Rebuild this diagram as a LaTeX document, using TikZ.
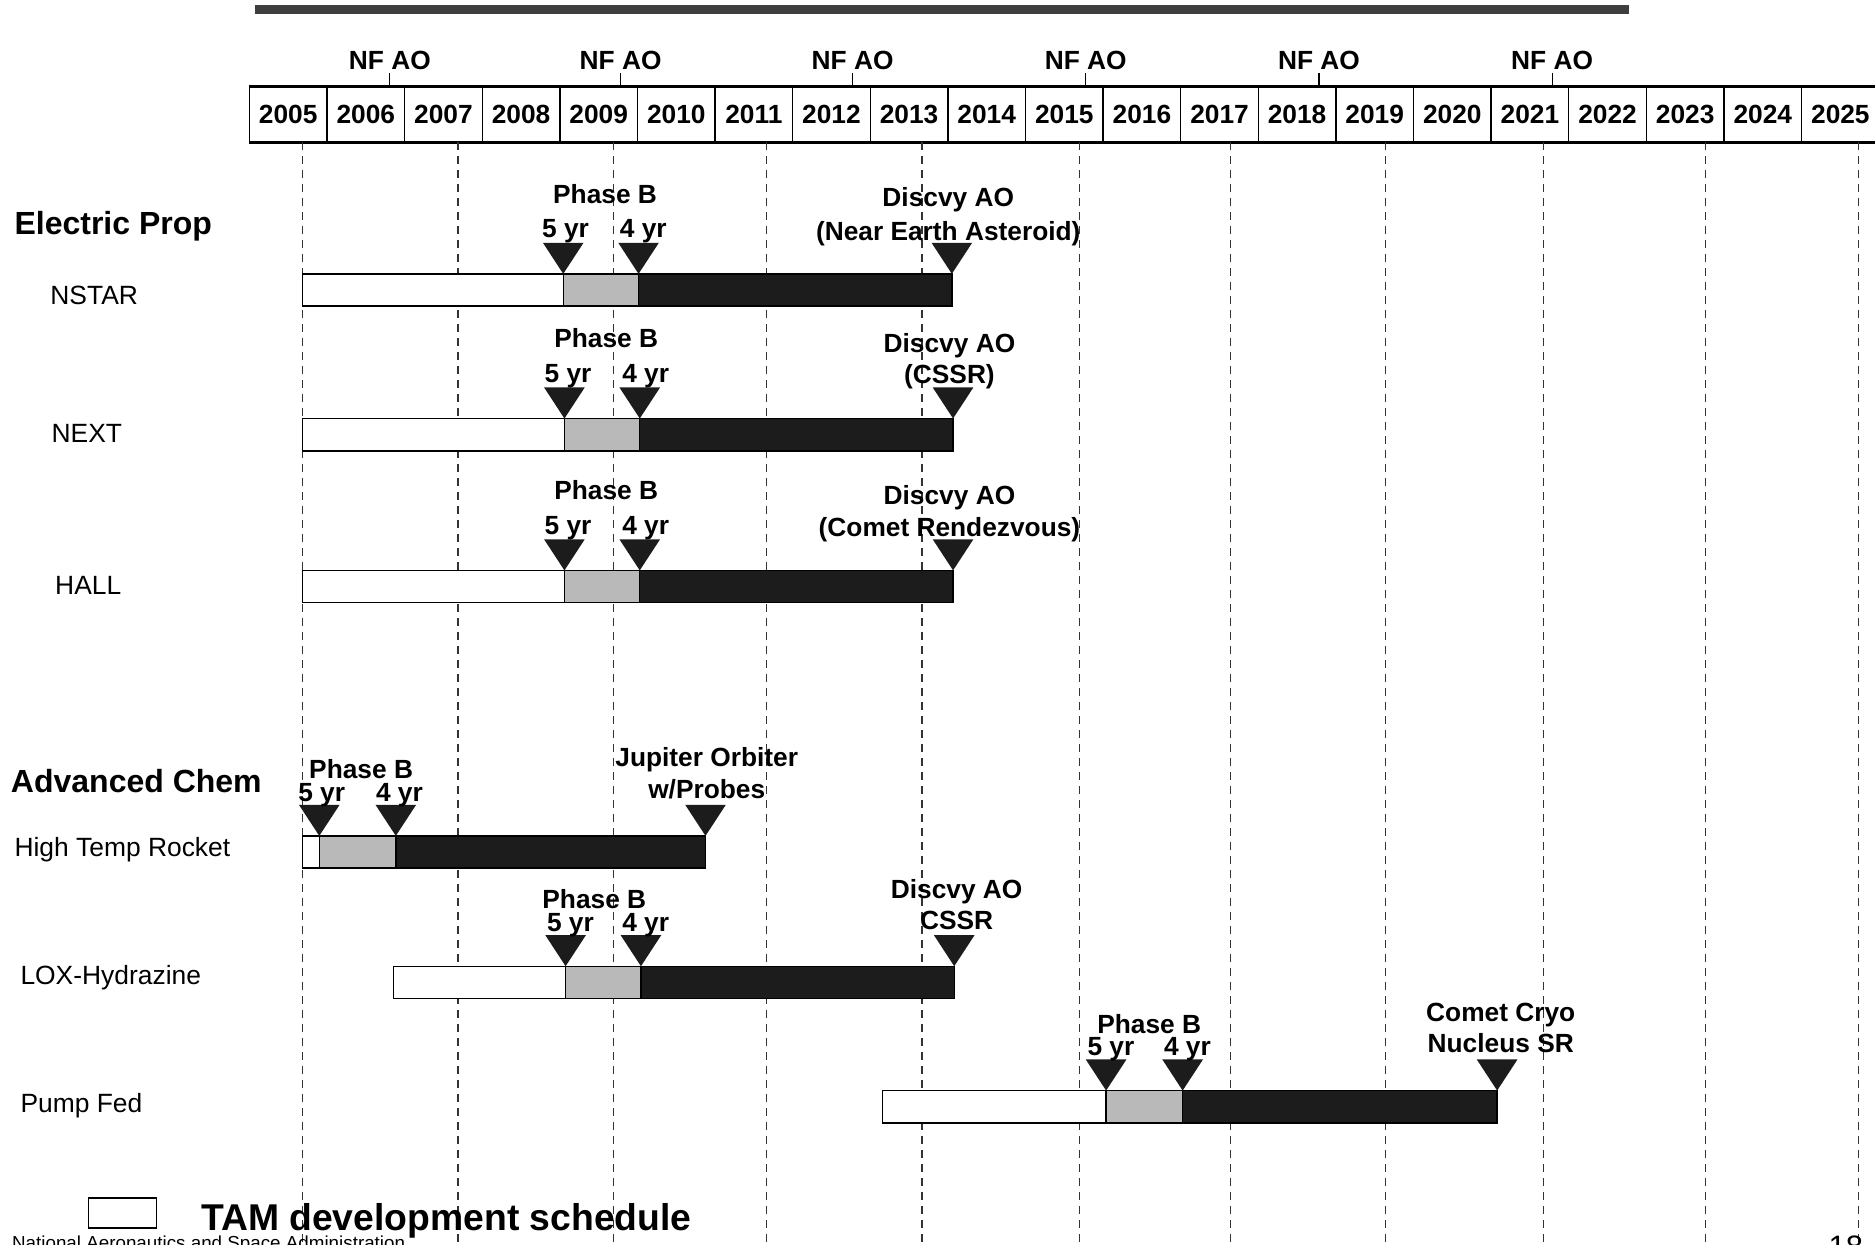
\documentclass[tikz,border=0pt]{standalone}
\usepackage{fontspec}
\setmainfont{Liberation Sans}
\definecolor{phaseb}{RGB}{185,185,185}
\definecolor{barblack}{RGB}{28,28,28}
\definecolor{topbar}{RGB}{62,62,62}

% milestone triangle, tip on the bar top
\newcommand{\mstone}[2]{\fill[barblack] ({#1},{#2}) -- ++(-17,-26) -- ++(34,0) -- cycle;}
% bar: top y, start, phase B start, phase C/D start, end
\newcommand{\tambar}[5]{%
  \draw[barline, fill=white] ({#2},{#1}) rectangle ({#3},{#1+27});
  \draw[barline, fill=phaseb] ({#3},{#1}) rectangle ({#4},{#1+27});
  \draw[barline, fill=barblack] ({#4},{#1}) rectangle ({#5},{#1+27});
  \mstone{#3}{#1}\mstone{#4}{#1}\mstone{#5}{#1}}

\begin{document}
\begin{tikzpicture}[
  x=1.1958pt, y=-1.1958pt,
  yearbox/.style={draw, line width=1.4pt, minimum width=77.6pt, minimum height=55pt, inner sep=0pt, anchor=north west, font=\fontsize{26.3}{30}\selectfont\bfseries},
  lbl/.style={inner sep=0pt, anchor=base, font=\fontsize{26.3}{30}\selectfont\bfseries},
  grp/.style={inner sep=0pt, anchor=base west, font=\fontsize{32}{36}\selectfont\bfseries},
  item/.style={inner sep=0pt, anchor=base west, font=\fontsize{26.4}{30}\selectfont},
  grid/.style={dash pattern=on 8pt off 6pt, line width=1.1pt, black!80},
  barline/.style={line width=1.4pt}
]
\useasboundingbox (0,0) rectangle (1568,1041);

\fill[topbar] (213,4.5) rectangle (1362,11.5);

% year strip
\foreach \i [evaluate=\i as \yr using int(2005+\i)] in {0,...,20}
  \node[yearbox] (y\yr) at ({208+64.9*\i},72) {\yr};
\draw[line width=3pt] (y2005.north west) -- (y2025.north east);
\draw[line width=3pt] (y2005.south west) -- (y2025.south east);

\foreach \x/\n in {326/1,519/2,713/3,908/4,1103/5,1298/6} {
  \node[lbl] (nf\n) at (\x,58) {NF AO};
  \draw[line width=1.2pt, shorten <=3pt] (nf\n.south) -- (nf\n.south |- y2005.north);
}

\foreach \x in {253,383,513,641,771,903,1029,1159,1291,1426,1554}
  \draw[grid] (\x,119) -- (\x,1041);

% Electric Prop
\node[grp] (ep) at (12,196.5) {Electric Prop};
\node[item] (nstar) at (42,255) {NSTAR};
\node[item] (next) at (43,370) {NEXT};
\node[item] (hall) at (46,497) {HALL};

\tambar{229}{253}{471}{534}{796}
\node[lbl] (ns-pb) at (506,170) {Phase B};
\node[lbl] (ns-5) at (473,199) {5 yr};
\node[lbl] (ns-4) at (538,199) {4 yr};
\node[lbl] (ns-ao) at (793,173) {Discvy AO};
\node[lbl] (ns-tgt) at (793,201) {(Near Earth Asteroid)};

\tambar{350}{253}{472}{535}{797}
\node[lbl] (nx-pb) at (507,291) {Phase B};
\node[lbl] (nx-5) at (475,320) {5 yr};
\node[lbl] (nx-4) at (540,320) {4 yr};
\node[lbl] (nx-ao) at (794,295) {Discvy AO};
\node[lbl] (nx-tgt) at (794,321) {(CSSR)};

\tambar{477}{253}{472}{535}{797}
\node[lbl] (hl-pb) at (507,418) {Phase B};
\node[lbl] (hl-5) at (475,447) {5 yr};
\node[lbl] (hl-4) at (540,447) {4 yr};
\node[lbl] (hl-ao) at (794,422) {Discvy AO};
\node[lbl] (hl-tgt) at (794,449) {(Comet Rendezvous)};

% Advanced Chem
\node[grp] (ac) at (9,662.5) {Advanced Chem};
\node[item] (htr) at (12,716) {High Temp Rocket};
\node[item] (lox) at (17,823) {LOX-Hydrazine};
\node[item] (pump) at (17,930) {Pump Fed};

\tambar{699}{253}{267}{331}{590}
\node[lbl] (ht-pb) at (302,651) {Phase B};
\node[lbl] (ht-5) at (269,670) {5 yr};
\node[lbl] (ht-4) at (334,670) {4 yr};
\node[lbl] (ht-ao) at (591,641) {Jupiter Orbiter};
\node[lbl] (ht-tgt) at (591,668) {w/Probes};

\tambar{808}{329}{473}{536}{798}
\node[lbl] (lx-pb) at (497,760) {Phase B};
\node[lbl] (lx-5) at (477,779) {5 yr};
\node[lbl] (lx-4) at (540,779) {4 yr};
\node[lbl] (lx-ao) at (800,751) {Discvy AO};
\node[lbl] (lx-tgt) at (800,777) {CSSR};

\tambar{912}{738}{925}{989}{1252}
\node[lbl] (pf-pb) at (961,864) {Phase B};
\node[lbl] (pf-5) at (929,883) {5 yr};
\node[lbl] (pf-4) at (993,883) {4 yr};
\node[lbl] (pf-ao) at (1255,854) {Comet Cryo};
\node[lbl] (pf-tgt) at (1255,880) {Nucleus SR};

% legend and footer
\node[draw, line width=1.4pt, minimum width=68pt, minimum height=30pt, inner sep=0pt] (legbox) at (102.5,1014.5) {};
\node[inner sep=0pt, anchor=base west, font=\fontsize{37.3}{40}\selectfont\bfseries] (legtxt) at (168,1029) {TAM development schedule};
\node[inner sep=0pt, anchor=base west, font=\fontsize{18.8}{20}\selectfont] (nasa) at (10,1045) {National Aeronautics and Space Administration};
\node[inner sep=0pt, anchor=base west, font=\fontsize{31}{34}\selectfont] (pageno) at (1529,1052) {18};
\end{tikzpicture}
\end{document}
